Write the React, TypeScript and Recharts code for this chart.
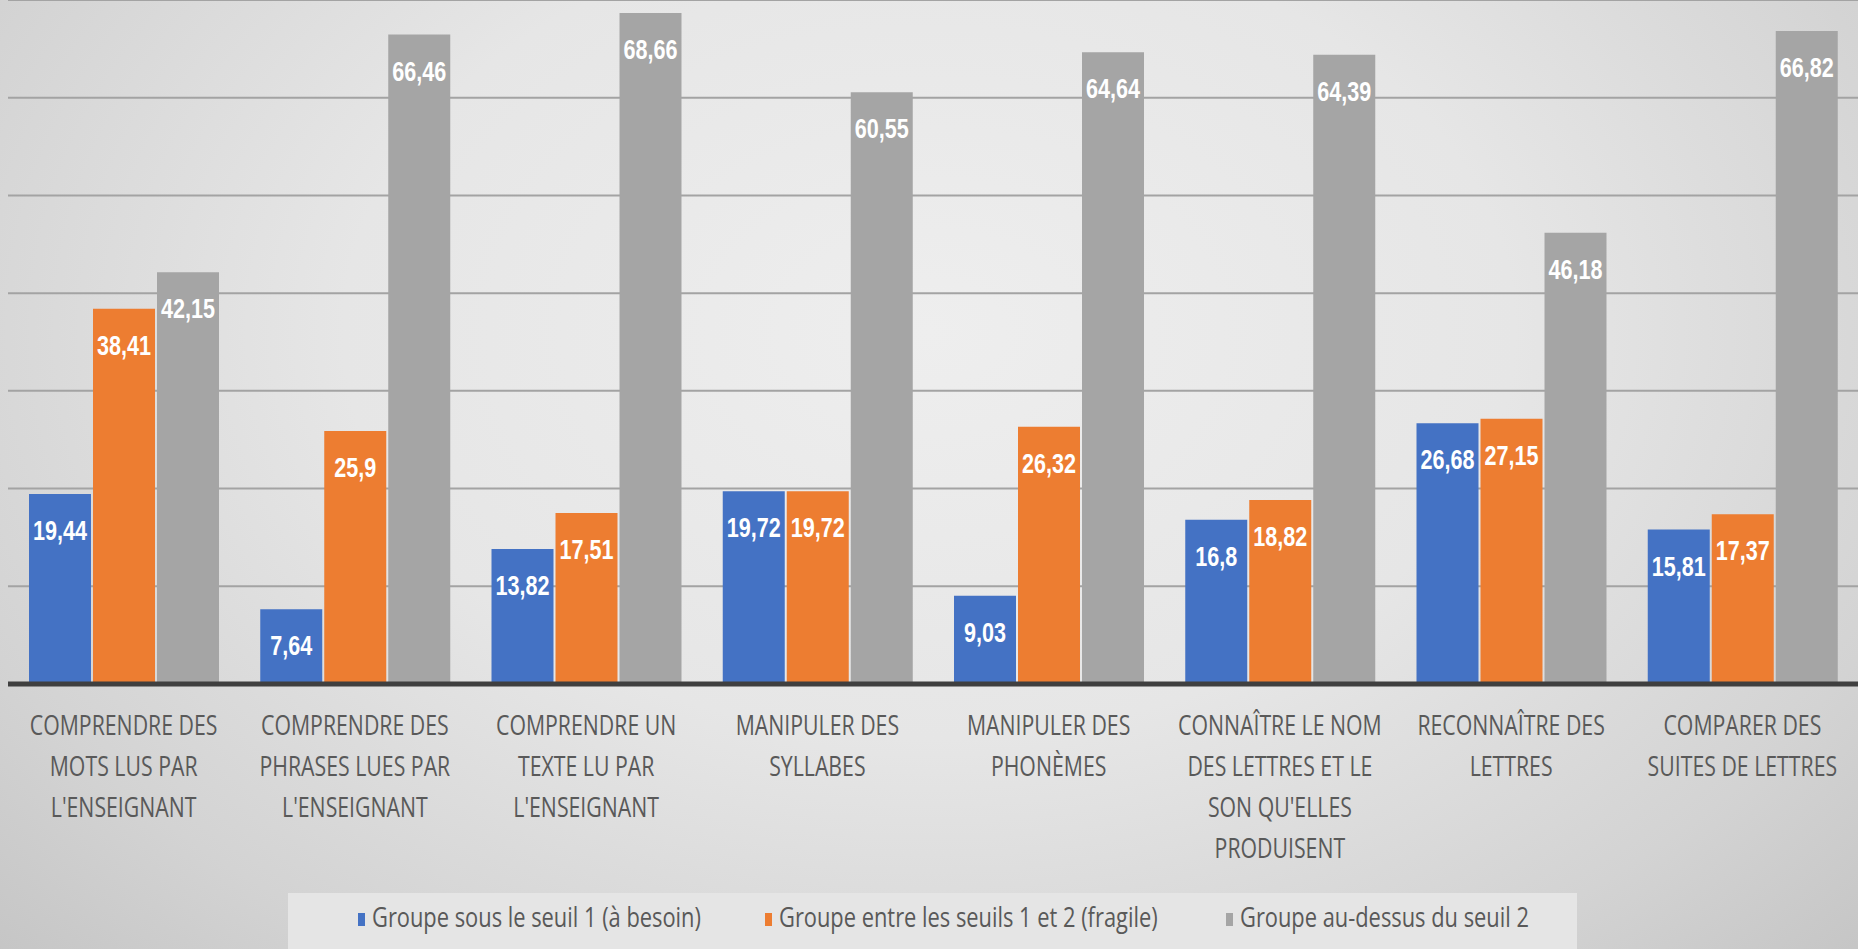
import React from "react";
import { BarChart, Bar, XAxis, YAxis, CartesianGrid, LabelList, Legend } from "recharts";

const categories = [
  "COMPRENDRE DES MOTS LUS PAR L'ENSEIGNANT",
  "COMPRENDRE DES PHRASES LUES PAR L'ENSEIGNANT",
  "COMPRENDRE UN TEXTE LU PAR L'ENSEIGNANT",
  "MANIPULER DES SYLLABES",
  "MANIPULER DES PHONÈMES",
  "CONNAÎTRE LE NOM DES LETTRES ET LE SON QU'ELLES PRODUISENT",
  "RECONNAÎTRE DES LETTRES",
  "COMPARER DES SUITES DE LETTRES",
];

const seriesNames = [
  "Groupe sous le seuil 1 (à besoin)",
  "Groupe entre les seuils 1 et 2 (fragile)",
  "Groupe au-dessus du seuil 2",
];

const seuil1 = [19.44, 7.64, 13.82, 19.72, 9.03, 16.8, 26.68, 15.81];
const fragile = [38.41, 25.9, 17.51, 19.72, 26.32, 18.82, 27.15, 17.37];
const seuil2 = [42.15, 66.46, 68.66, 60.55, 64.64, 64.39, 46.18, 66.82];

const yTicks = [0, 10, 20, 30, 40, 50, 60];

const colors = ["#4472C4", "#ED7D31", "#A5A5A5"];

const data = categories.map((name, i) => ({
  name,
  s1: seuil1[i],
  s2: fragile[i],
  s3: seuil2[i],
}));

function wrap(text: string, maxChars: number): string[] {
  const words = text.split(" ");
  const lines: string[] = [];
  let cur = "";
  for (const w of words) {
    const cand = cur ? cur + " " + w : w;
    if (cand.length > maxChars && cur) {
      lines.push(cur);
      cur = w;
    } else {
      cur = cand;
    }
  }
  if (cur) lines.push(cur);
  return lines;
}

const renderTick = (props: any) => {
  const { x, y, payload } = props;
  const lines = wrap(String(payload.value), 17);
  return (
    <g transform={`translate(${x},${y}) scale(0.76,1)`}>
      <text textAnchor="middle" fill="#595959" fontFamily="'Open Sans', sans-serif" fontSize={28}>
        {lines.map((l, i) => (
          <tspan key={i} x={0} y={51 + i * 41}>
            {l}
          </tspan>
        ))}
      </text>
    </g>
  );
};

const renderLabel = (props: any) => {
  const { x, y, width, value } = props;
  const cx = Number(x) + Number(width) / 2;
  return (
    <g transform={`translate(${cx},${Number(y) + 46}) scale(0.8,1)`}>
      <text
        x={0}
        y={0}
        textAnchor="middle"
        fill="#ffffff"
        fontFamily="'Liberation Sans', Arial, sans-serif"
        fontWeight="bold"
        fontSize={27}
      >
        {String(value).replace(".", ",")}
      </text>
    </g>
  );
};

const legendX = [84, 491, 952];

const renderLegend = (props: any) => {
  const payload = [...(props.payload || [])].sort(
    (a: any, b: any) => seriesNames.indexOf(a.value) - seriesNames.indexOf(b.value)
  );
  return (
    <svg width={1289} height={56} style={{ display: "block" }}>
      <rect x={0} y={0} width={1289} height={56} fill="#e5e5e5" />
      {payload.map((p: any, i: number) => (
        <g key={i}>
          <rect x={legendX[i] - 14} y={20} width={7} height={13} fill={p.color} />
          <g transform={`translate(${legendX[i]},34) scale(0.81,1)`}>
            <text x={0} y={0} fill="#595959" fontFamily="'Open Sans', sans-serif" fontSize={27}>
              {p.value}
            </text>
          </g>
        </g>
      ))}
    </svg>
  );
};

export default function App() {
  return (
    <div
      style={{
        position: "absolute",
        left: 0,
        top: 0,
        width: 1858,
        height: 949,
        overflow: "hidden",
        background:
          "radial-gradient(ellipse 70% 95% at 50% 35%, #eeeeee 0%, #e6e6e6 45%, #d3d3d3 80%, #c5c5c5 100%)",
      }}
    >
      <BarChart
        width={1858}
        height={949}
        data={data}
        margin={{ top: 0, right: 0, left: 8, bottom: 85 }}
        barCategoryGap={21}
        barGap={2}
      >
        <CartesianGrid vertical={false} stroke="#a3a3a3" strokeWidth={2} />
        <XAxis
          dataKey="name"
          height={180}
          interval={0}
          tick={renderTick}
          tickLine={false}
          tickSize={0}
          tickMargin={0}
          axisLine={{ stroke: "#3f3f3f", strokeWidth: 5 }}
        />
        <YAxis hide domain={[0, 70]} ticks={yTicks} />
        <Bar dataKey="s1" name={seriesNames[0]} fill={colors[0]} isAnimationActive={false}>
          <LabelList dataKey="s1" content={renderLabel} />
        </Bar>
        <Bar dataKey="s2" name={seriesNames[1]} fill={colors[1]} isAnimationActive={false}>
          <LabelList dataKey="s2" content={renderLabel} />
        </Bar>
        <Bar dataKey="s3" name={seriesNames[2]} fill={colors[2]} isAnimationActive={false}>
          <LabelList dataKey="s3" content={renderLabel} />
        </Bar>
        <Legend
          layout="horizontal"
          verticalAlign="middle"
          align="center"
          content={renderLegend}
          wrapperStyle={{ left: 288, top: 893, width: 1289, height: 56 }}
        />
      </BarChart>
    </div>
  );
}
